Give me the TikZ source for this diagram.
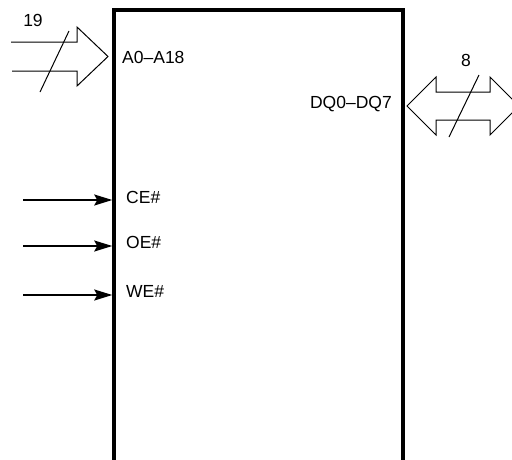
\documentclass[tikz,border=0pt]{standalone}
\usepackage{fontspec}
\setmainfont{Liberation Sans}
\usetikzlibrary{arrows.meta}
\usetikzlibrary{calc}
\usetikzlibrary{positioning}
\tikzset{
    pinlbl/.style = {inner sep=0pt, font=\fontsize{17.5}{20}\selectfont},% pin name
    chip/.style = {draw, rectangle, line width=3.5pt,
        minimum width=289pt, minimum height=500pt},% chip body, open at the bottom
    sig/.style = {line width=2pt, -{Stealth[length=18pt,width=11pt,inset=3pt]}},% control line
    bus/.style = {line width=1pt, line join=miter},% hollow bus arrow
    buscut/.style = {line width=1pt},% bus width mark
}

\begin{document}
\begin{tikzpicture}[x=1pt,y=-1pt]
\clip (0,0) rectangle (512,459);
\node [chip] (chip) at (258.5,260) {};
% pin names
\node [pinlbl, anchor=base west] (addr) at (122,63) {A0--A18};
\node [pinlbl, anchor=base east] (dq) at (392,108) {DQ0--DQ7};
\node [pinlbl, anchor=base west] (ce) at (126,203) {CE\#};
\node [pinlbl, anchor=base west] (oe) at (126,248) {OE\#};
\node [pinlbl, anchor=base west] (we) at (126,297) {WE\#};
% bus widths
\node [pinlbl, anchor=base] (addrw) at (33,26) {19};
\node [pinlbl, anchor=base] (dqw) at (466,66) {8};
% control inputs
\coordinate (ce in) at (23,200);
\coordinate (oe in) at (23,246);
\coordinate (we in) at (23,295);
\draw [sig] (ce in) -- (ce in -| chip.west);
\draw [sig] (oe in) -- (oe in -| chip.west);
\draw [sig] (we in) -- (we in -| chip.west);
% address bus
\coordinate (addr tip) at (108,56.5);
\draw [bus] (11,42) -- (77,42) -- (77,27) -- (addr tip) -- (77,86) -- (77,71) -- (12,71);
\draw [buscut] (40,92) -- (69,31);
% data bus
\coordinate (dq tip) at (407,106);
\draw [bus] (dq tip) -- (436,77) -- (436,92) -- (490,92) -- (490,77) -- (519,106)
    -- (490,135) -- (490,120) -- (436,120) -- (436,135) -- cycle;
\draw [buscut] (449,137) -- (479,75);
\end{tikzpicture}
\end{document}
